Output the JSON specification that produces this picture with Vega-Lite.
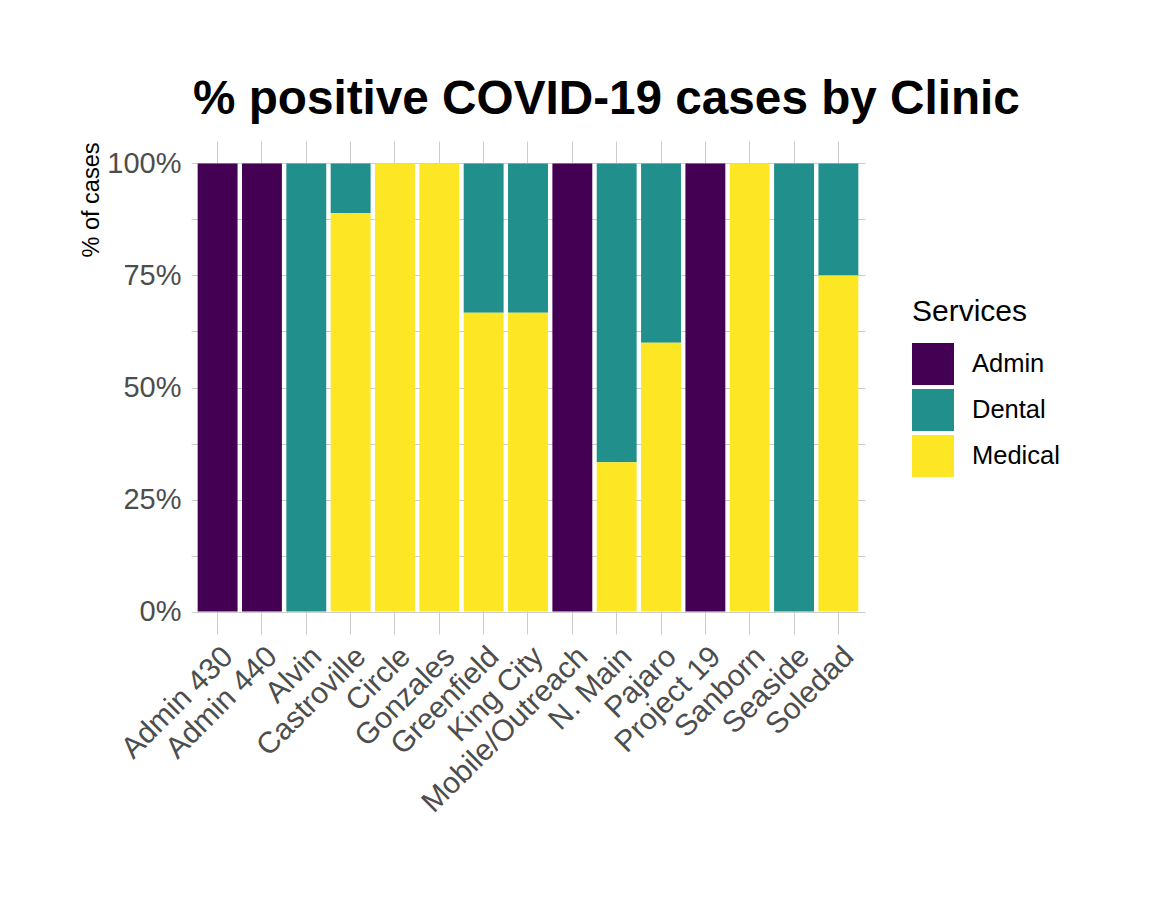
{
  "$schema": "https://vega.github.io/schema/vega-lite/v6.json",
  "autosize": {"type": "none"},
  "padding": {"left": 191, "top": 141, "right": 287, "bottom": 287},
  "width": 674,
  "height": 493,
  "background": "white",
  "config": {
    "font": "Liberation Sans",
    "view": {"stroke": null}
  },
  "title": {
    "text": "% positive COVID-19 cases by Clinic",
    "anchor": "start",
    "frame": "group",
    "fontSize": 47.7,
    "fontWeight": "bold",
    "color": "black",
    "baseline": "alphabetic",
    "offset": 25,
    "dx": 2,
    "dy": 46
  },
  "data": {
    "values": [
      {"Clinic": "Admin 430", "Services": "Admin", "n": 1},
      {"Clinic": "Admin 440", "Services": "Admin", "n": 1},
      {"Clinic": "Alvin", "Services": "Dental", "n": 1},
      {"Clinic": "Castroville", "Services": "Dental", "n": 1},
      {"Clinic": "Castroville", "Services": "Medical", "n": 8},
      {"Clinic": "Circle", "Services": "Medical", "n": 1},
      {"Clinic": "Gonzales", "Services": "Medical", "n": 1},
      {"Clinic": "Greenfield", "Services": "Dental", "n": 1},
      {"Clinic": "Greenfield", "Services": "Medical", "n": 2},
      {"Clinic": "King City", "Services": "Dental", "n": 1},
      {"Clinic": "King City", "Services": "Medical", "n": 2},
      {"Clinic": "Mobile/Outreach", "Services": "Admin", "n": 1},
      {"Clinic": "N. Main", "Services": "Dental", "n": 2},
      {"Clinic": "N. Main", "Services": "Medical", "n": 1},
      {"Clinic": "Pajaro", "Services": "Dental", "n": 2},
      {"Clinic": "Pajaro", "Services": "Medical", "n": 3},
      {"Clinic": "Project 19", "Services": "Admin", "n": 1},
      {"Clinic": "Sanborn", "Services": "Medical", "n": 1},
      {"Clinic": "Seaside", "Services": "Dental", "n": 1},
      {"Clinic": "Soledad", "Services": "Dental", "n": 1},
      {"Clinic": "Soledad", "Services": "Medical", "n": 3}
    ]
  },
  "mark": {"type": "bar"},
  "encoding": {
    "x": {
      "field": "Clinic",
      "type": "nominal",
      "sort": null,
      "scale": {"paddingInner": 0.1, "paddingOuter": 0.15},
      "axis": {
        "title": null,
        "labelAngle": -45,
        "labelAlign": "right",
        "labelBaseline": "top",
        "labelPadding": 7,
        "labelFontSize": 30,
        "labelColor": "#4D4D4D",
        "labelLimit": 0,
        "ticks": false,
        "domain": false,
        "grid": true,
        "bandPosition": 0.5,
        "gridColor": "#CCCCCC",
        "gridWidth": 1,
        "labelOverlap": false
      }
    },
    "y": {
      "field": "n",
      "type": "quantitative",
      "aggregate": "sum",
      "stack": "normalize",
      "scale": {"domain": [-0.05, 1.05], "nice": false, "zero": false},
      "axis": {
        "title": "% of cases",
        "titleFontSize": 23.5,
        "titleFontWeight": "normal",
        "titleColor": "black",
        "titleAngle": -90,
        "titleAlign": "right",
        "titleBaseline": "alphabetic",
        "titleX": -93,
        "titleY": 1,
        "values": [0, 0.125, 0.25, 0.375, 0.5, 0.625, 0.75, 0.875, 1],
        "labelExpr": "(datum.value * 4) % 1 == 0 ? format(datum.value, '.0%') : ''",
        "labelFontSize": 29,
        "labelColor": "#4D4D4D",
        "labelPadding": 10,
        "labelOverlap": false,
        "ticks": false,
        "domain": false,
        "grid": true,
        "gridColor": "#CCCCCC",
        "gridWidth": 1
      }
    },
    "color": {
      "field": "Services",
      "type": "nominal",
      "scale": {
        "domain": ["Admin", "Dental", "Medical"],
        "range": ["#440154", "#21908C", "#FDE725"]
      },
      "legend": {
        "orient": "none",
        "legendX": 721,
        "legendY": 156,
        "padding": 0,
        "title": "Services",
        "titleFontSize": 30,
        "titleFontWeight": "normal",
        "titleColor": "black",
        "titlePadding": 16,
        "labelFontSize": 25.5,
        "labelColor": "black",
        "labelOffset": 18,
        "symbolType": "square",
        "symbolSize": 1764,
        "symbolStrokeWidth": 0,
        "symbolOpacity": 1,
        "rowPadding": 4
      }
    },
    "order": {"field": "Services", "sort": "descending"}
  }
}
